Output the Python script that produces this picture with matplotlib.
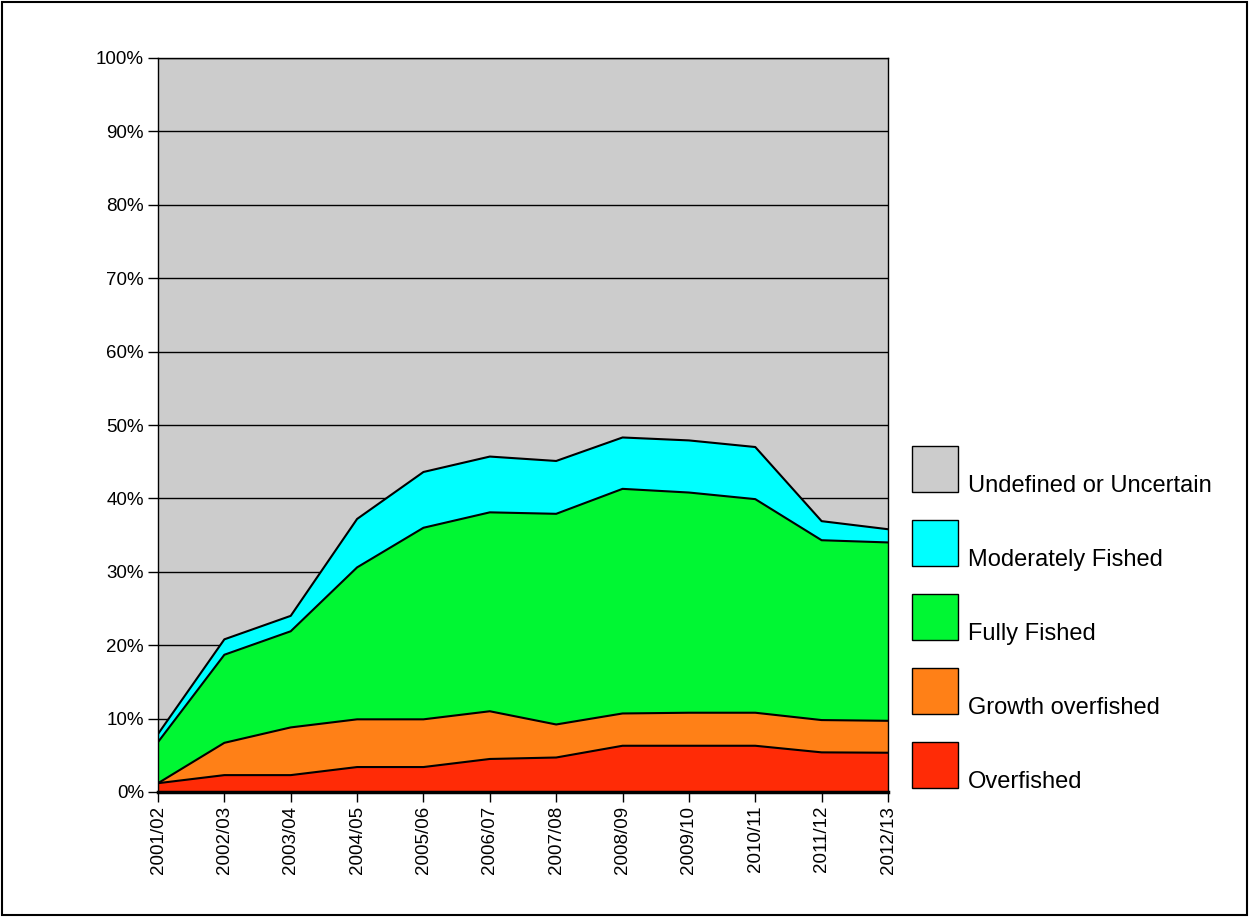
import matplotlib.pyplot as plt
import matplotlib.patches as mpatches
import numpy as np

plt.rcParams['font.family'] = ['Liberation Sans', 'DejaVu Sans']

# Stock status shares (%)
years = ["2001/02", "2002/03", "2003/04", "2004/05", "2005/06", "2006/07",
         "2007/08", "2008/09", "2009/10", "2010/11", "2011/12", "2012/13"]
overfished = [1.2, 2.3, 2.3, 3.4, 3.4, 4.5, 4.7, 6.3, 6.3, 6.3, 5.4, 5.35]
growth_overfished = [0.0, 4.4, 6.5, 6.5, 6.5, 6.5, 4.5, 4.4, 4.5, 4.5, 4.4, 4.35]
fully_fished = [5.6, 12.0, 13.1, 20.7, 26.1, 27.1, 28.7, 30.6, 30.0, 29.1, 24.5, 24.3]
moderately_fished = [1.1, 2.1, 2.1, 6.6, 7.6, 7.6, 7.2, 7.0, 7.1, 7.1, 2.6, 1.8]

names = ["Overfished", "Growth overfished", "Fully Fished",
         "Moderately Fished", "Undefined or Uncertain"]
colors = ["#ff2b06", "#ff8017", "#00f733", "#00ffff", "#cccccc"]

x = np.arange(len(years))
layers = [overfished, growth_overfished, fully_fished, moderately_fished]
undefined = 100 - np.sum(layers, axis=0)
layers.append(list(undefined))

fig = plt.figure(figsize=(12.49, 9.17), dpi=100)
W, H = 1249, 917
ax = fig.add_axes([158 / W, 1 - 792 / H, (888 - 158) / W, (792 - 58) / H])
ax.set_facecolor("#cccccc")

# gridlines drawn under the stacked areas
for v in range(10, 101, 10):
    ax.axhline(v, color="black", lw=1, zorder=1)

bottom = np.zeros(len(years))
for i, (vals, c) in enumerate(zip(layers, colors)):
    top = bottom + np.array(vals)
    if i < 4:
        ax.fill_between(x, bottom, top, facecolor=c, edgecolor="none", zorder=2)
        ax.plot(x, top, color="black", lw=1.5, zorder=3)
    bottom = top

ax.set_xlim(0, len(years) - 1)
ax.set_ylim(0, 100)
ax.set_yticks(range(0, 101, 10))
ax.set_yticklabels([f"{v}%" for v in range(0, 101, 10)], fontsize=13.5)
ax.set_xticks(x)
ax.set_xticklabels(years, rotation=90, fontsize=13.5)
ax.tick_params(direction="out", length=7, width=1, color="black", pad=3)
for s in ax.spines.values():
    s.set_color("black")
    s.set_linewidth(1)
ax.spines["bottom"].set_linewidth(2.5)
ax.spines["bottom"].set_zorder(4)

# legend, top to bottom
for k, idx in enumerate([4, 3, 2, 1, 0]):
    top_px = 446 + k * 74
    rect = mpatches.Rectangle((912 / W, 1 - (top_px + 46) / H), 46 / W, 46 / H,
                              facecolor=colors[idx], edgecolor="black", lw=1,
                              transform=fig.transFigure)
    fig.add_artist(rect)
    fig.text(968 / W, 1 - (top_px + 46) / H, names[idx], fontsize=17,
             va="baseline", ha="left")

# outer border
fig.add_artist(mpatches.Rectangle((2 / W, 2 / H), (W - 4) / W, (H - 4) / H,
                                  fill=False, edgecolor="black", lw=1.5,
                                  transform=fig.transFigure))

fig.savefig("out.png", dpi=100)
